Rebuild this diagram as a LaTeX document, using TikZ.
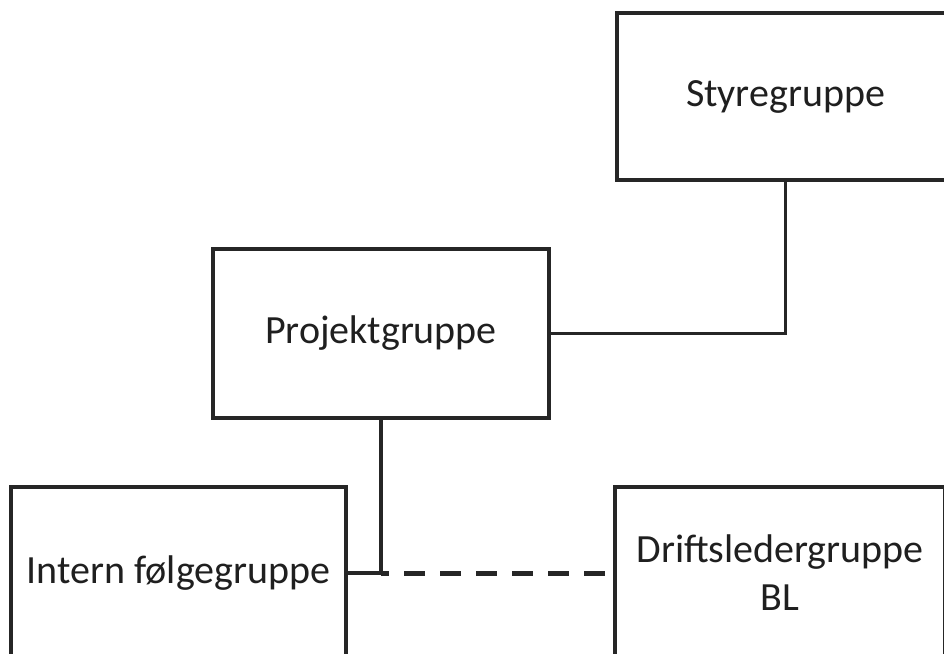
\documentclass[tikz,border=0pt]{standalone}
\usepackage{fontspec}
\setmainfont{Carlito}
\begin{document}
\begin{tikzpicture}[x=1pt,y=-1pt,
  box/.style={draw=black!85, line width=3.5pt, fill=white, inner sep=0pt, outer sep=0pt,
    align=center, text=black!88, font=\fontsize{40}{48}\selectfont},
  conn/.style={draw=black!85, line width=3.5pt},
  dconn/.style={draw=black!85, line width=5pt, dash pattern=on 21pt off 15pt, dash phase=13pt}]
\useasboundingbox (0,0) rectangle (944,653);
\clip (0,0) rectangle (944,653);
\fill[white] (0,0) rectangle (944,653);
\node[box, minimum width=337pt, minimum height=167pt] (styre) at (785.5,96.5) {Styregruppe};
\node[box, minimum width=336pt, minimum height=169pt] (proj) at (381,333.5) {Projektgruppe};
\node[box, minimum width=335pt, minimum height=172pt] (intern) at (178.5,573) {Intern følgegruppe};
\node[box, minimum width=330pt, minimum height=172pt] (drift) at (780,573) {Driftsledergruppe\\BL};
\coordinate (j) at (proj.south |- intern.east);
\draw[conn] (proj.east) -| (styre.south);
\draw[conn] (proj.south) -- (j);
\draw[conn] (intern.east) -- (j);
\draw[dconn] (j) -- (drift.west);
\end{tikzpicture}
\end{document}
